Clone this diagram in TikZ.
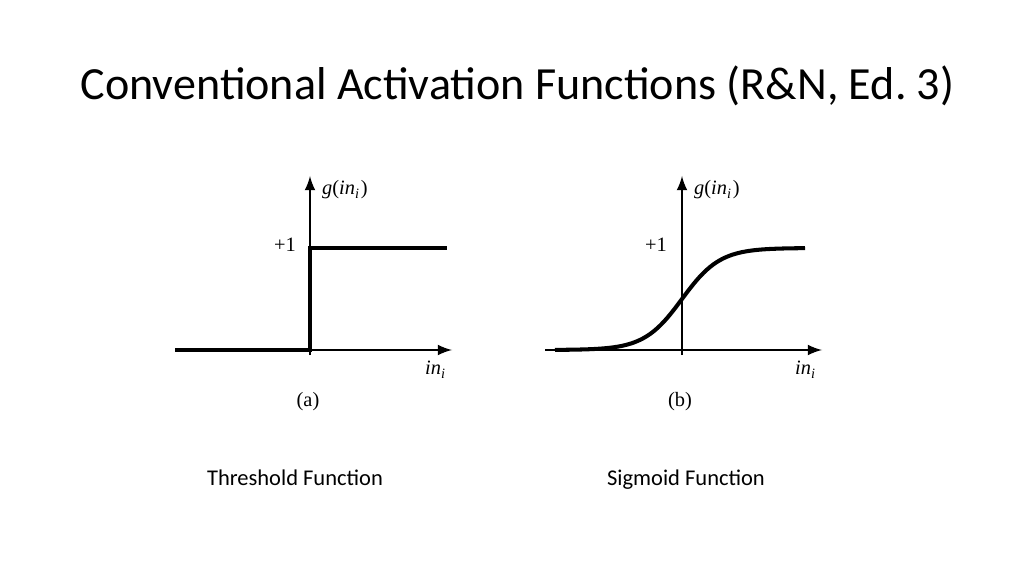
\documentclass[tikz,border=0pt]{standalone}
\usepackage{fontspec}
\setmainfont{Carlito}
\newfontfamily\plotfont{Liberation Serif}
\usetikzlibrary{arrows}
\tikzstyle{axis} = [draw,thin,-latex]
\tikzstyle{curve} = [draw,line width=1.15pt]
\tikzstyle{tick} = [font=\plotfont\fontsize{5.8}{6}\selectfont,inner sep=1pt]
\tikzstyle{caption} = [font=\fontsize{6.4}{7}\selectfont]
\newcommand{\inlab}{\textit{in}\textsubscript{\textit{i}}}

\begin{document}
\begin{tikzpicture}[x=0.01cm,y=-0.01cm]
	\useasboundingbox (0,0) rectangle (1024,576);
	% title
	\node[font=\fontsize{13.1}{15}\selectfont,anchor=west,inner sep=0pt] (title) at (80,86) {Conventional Activation Functions (R\&N, Ed.~3)};
	% threshold plot
	\coordinate (o1) at (310,350);
	\coordinate (xe1) at (452,350);
	\coordinate (ye1) at (310,176);
	\path[axis] (175,350) -- (xe1);
	\path[axis] (310,355) -- (ye1);
	\path[curve] (175,350) -- (o1) -- (310,248) -- (447,248);
	\node[tick,anchor=east] (p1) at (300,245) {+1};
	\node[tick,anchor=west] (g1) at (318,190) {\textit{g}(\inlab)};
	\node[tick] (in1) at (436,370) {\inlab};
	\node[tick] (a) at (308,402) {(a)};
	% sigmoid plot
	\coordinate (o2) at (682,350);
	\coordinate (xe2) at (822,350);
	\coordinate (ye2) at (682,176);
	\path[axis] (545,350) -- (xe2);
	\path[axis] (682,355) -- (ye2);
	\path[curve] plot[domain=-127:123,samples=80,smooth] ({682+\x},{350-102/(1+exp(-\x/19))});
	\node[tick,anchor=east] (p2) at (671,245) {+1};
	\node[tick,anchor=west] (g2) at (690,190) {\textit{g}(\inlab)};
	\node[tick] (in2) at (806,370) {\inlab};
	\node[tick] (b) at (680,402) {(b)};
	% captions
	\node[caption,anchor=base] (cap1) at (295,485) {Threshold Function};
	\node[caption,anchor=base] (cap2) at (686,485) {Sigmoid Function};
\end{tikzpicture}
\end{document}
